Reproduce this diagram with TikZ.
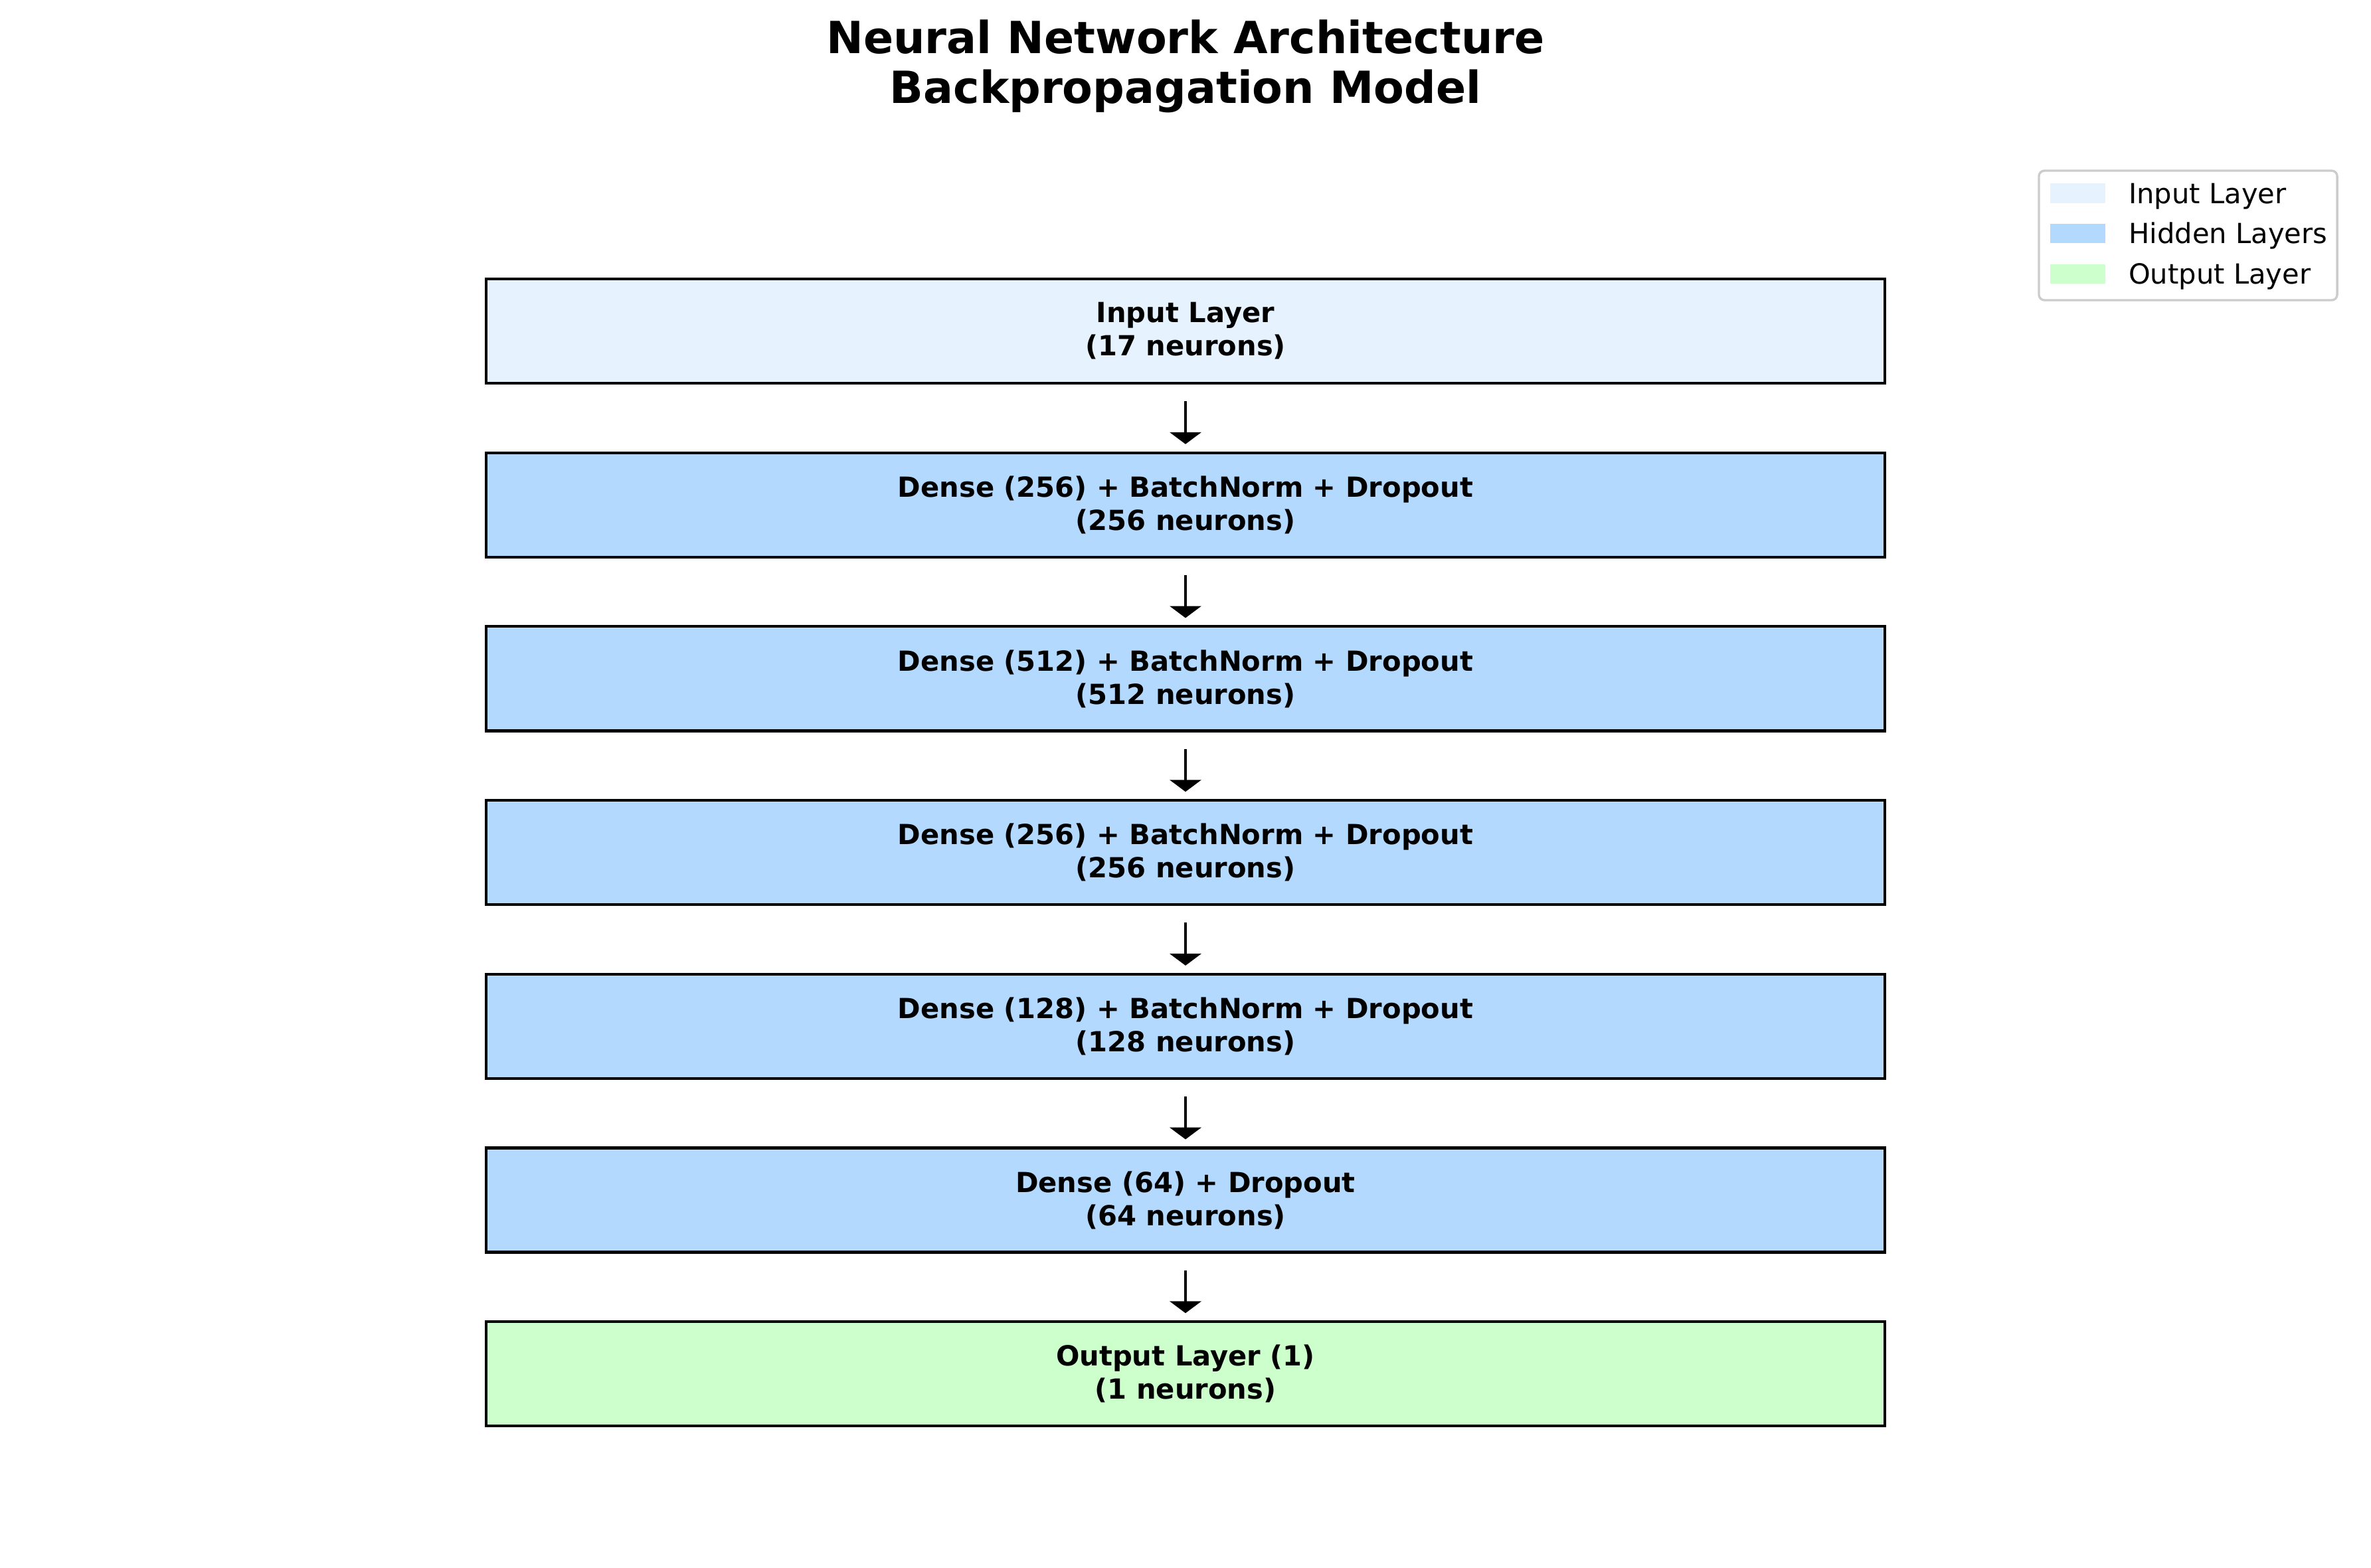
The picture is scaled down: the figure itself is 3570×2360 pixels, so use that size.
\documentclass[tikz,border=0pt]{standalone}
\usepackage{fontspec}
\setmainfont{DejaVu Sans}
\usepackage{xcolor}
\usepackage{tikz}
\usetikzlibrary{arrows.meta, positioning}
\definecolor{inputcolor}{RGB}{230,243,255}
\definecolor{hiddencolor}{RGB}{179,217,255}
\definecolor{outputcolor}{RGB}{204,255,204}
\definecolor{legendedge}{RGB}{204,204,204}

\begin{document}
\begin{tikzpicture}[
    x=0.24pt, y=-0.24pt,
    layer/.style={draw, line width=1pt, minimum width=505.4pt, minimum height=37.7pt, inner sep=0pt, font=\fontsize{10}{12}\selectfont\bfseries, align=center},
    arrow/.style={-{Triangle[width=11.3pt, length=4.3pt]}, line width=1pt},
    patch/.style={minimum width=20pt, minimum height=7pt, inner sep=0pt},
    legendtext/.style={inner sep=0pt, font=\fontsize{10}{12}\selectfont}
]
    \useasboundingbox (0,0) rectangle (3570,2360);

    % Title
    \node[font=\fontsize{16}{17.8}\selectfont\bfseries, align=center, inner sep=0pt, anchor=base] (title) at (1785,155) {Neural Network Architecture\\Backpropagation Model};

    % Layers
    \node[layer, fill=inputcolor] (input) at (1785,498.5) {Input Layer\\(17 neurons)};
    \node[layer, fill=hiddencolor] (dense1) at (1785,760.2) {Dense (256) + BatchNorm + Dropout\\(256 neurons)};
    \node[layer, fill=hiddencolor] (dense2) at (1785,1021.9) {Dense (512) + BatchNorm + Dropout\\(512 neurons)};
    \node[layer, fill=hiddencolor] (dense3) at (1785,1283.6) {Dense (256) + BatchNorm + Dropout\\(256 neurons)};
    \node[layer, fill=hiddencolor] (dense4) at (1785,1545.3) {Dense (128) + BatchNorm + Dropout\\(128 neurons)};
    \node[layer, fill=hiddencolor] (dense5) at (1785,1807.0) {Dense (64) + Dropout\\(64 neurons)};
    \node[layer, fill=outputcolor] (output) at (1785,2068.7) {Output Layer (1)\\(1 neurons)};

    % Forward arrows
    \draw[arrow] ([yshift=-6pt]input.south) -- ([yshift=2.6pt]dense1.north);
    \draw[arrow] ([yshift=-6pt]dense1.south) -- ([yshift=2.6pt]dense2.north);
    \draw[arrow] ([yshift=-6pt]dense2.south) -- ([yshift=2.6pt]dense3.north);
    \draw[arrow] ([yshift=-6pt]dense3.south) -- ([yshift=2.6pt]dense4.north);
    \draw[arrow] ([yshift=-6pt]dense4.south) -- ([yshift=2.6pt]dense5.north);
    \draw[arrow] ([yshift=-6pt]dense5.south) -- ([yshift=2.6pt]output.north);

    % Legend
    \node[draw=legendedge, line width=0.8pt, rounded corners=2pt, fill=white, minimum width=107.8pt, minimum height=46.8pt] (legend) at (3294.5,354.5) {};
    \node[patch, fill=inputcolor] (legin) at (3128.5,291) {};
    \node[patch, fill=hiddencolor] (leghid) at (3128.5,351.5) {};
    \node[patch, fill=outputcolor] (legout) at (3128.5,412.5) {};
    \node[legendtext, anchor=base west] (legintext) at ([xshift=8pt]legin.south east) {Input Layer};
    \node[legendtext, anchor=base west] (leghidtext) at ([xshift=8pt]leghid.south east) {Hidden Layers};
    \node[legendtext, anchor=base west] (legouttext) at ([xshift=8pt]legout.south east) {Output Layer};
\end{tikzpicture}
\end{document}
